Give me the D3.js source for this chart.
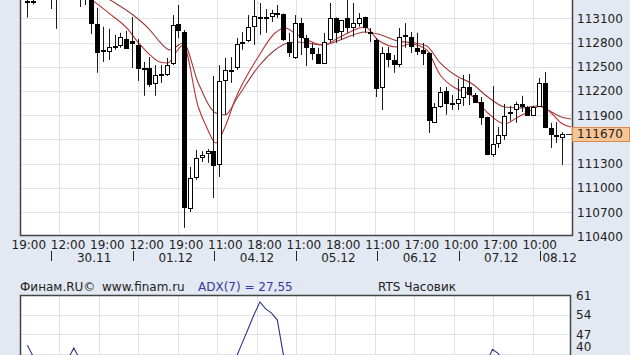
<!DOCTYPE html>
<html><head><meta charset="utf-8">
<script src="https://cdn.jsdelivr.net/npm/d3@7"></script>
<style>
html,body{margin:0;padding:0;background:#e3e9f2;}
svg{display:block;}
text{font-family:"DejaVu Sans",Verdana,sans-serif;font-size:12px;fill:#222;}
</style></head><body>
<svg id="c" width="630" height="355"></svg>
<script>
// ---- data (hourly RTS candles, 29.11 19:00 .. 08.12 13:00) ----
const opens  = [113310,113315,113450,113400,113440,113380,113420,113500,113450,113380,113360,113350,113030,112710,112695,112760,112770,112845,112820,112770,112490,112485,112300,112405,112410,112545,113030,112930,110750,111135,111385,111430,111455,111295,112335,112460,112495,112800,112830,113005,113120,113115,113130,113155,113155,112805,112620,113040,112855,112735,112660,112545,112845,113105,112945,113105,112995,113040,113115,112935,112830,112250,112670,112585,112535,112890,112870,112735,112710,112670,111815,112015,112200,112050,112050,112125,112250,112150,112065,111880,111420,111555,111655,111930,111975,112040,112000,111905,112015,112300,111740,111660,111630];
const highs  = [113400,113400,113520,113480,113520,113500,113560,113600,113520,113440,113420,113400,113230,112995,112970,112895,112920,112945,113115,112845,112560,112620,112520,112520,112610,113140,113265,112955,111260,111470,111455,111480,112385,112520,112610,112620,112855,112930,113140,113360,113290,113215,113205,113265,113160,112920,113140,113105,112895,112795,112735,112920,113290,113110,113080,113340,113290,113165,113120,112980,112855,112745,112745,112645,112980,113040,112930,112920,112795,112680,112050,112250,112250,112150,112350,112400,112410,112175,112125,111880,112260,111755,112040,112015,112065,112140,112015,112015,112360,112435,111805,111815,111690];
const lows   = [113110,113270,113360,113340,113215,112970,113380,113400,113350,113240,113265,112905,112425,112560,112585,112710,112735,112720,112485,112325,112140,112250,112140,112300,112385,112520,112855,110505,110700,111100,111320,111310,110875,111135,111905,112300,112460,112710,112805,112770,112895,112920,113055,113105,112820,112620,112595,112645,112510,112585,112535,112535,112805,112795,112830,112920,112870,112995,112920,112805,112125,111965,112495,112425,112495,112735,112670,112645,112520,111680,111805,111990,111905,111965,111965,112015,112025,112050,111780,111405,111385,111495,111595,111830,111805,111940,111890,111890,112015,111740,111495,111555,111285];
const closes = [113305,113300,113400,113440,113380,113420,113500,113450,113380,113360,113350,113040,112685,112700,112745,112755,112870,112735,112795,112485,112485,112285,112400,112410,112520,113015,112955,110765,111120,111370,111405,111455,111285,112325,112460,112455,112780,112805,112995,113130,113115,113110,113165,113160,112845,112685,113040,112870,112745,112670,112545,112805,113105,112930,113080,112995,113040,113105,112995,112930,112235,112670,112595,112535,112870,112895,112755,112695,112670,111840,112000,112190,112050,112045,112100,112250,112165,112065,111880,111420,111545,111655,111890,111935,112040,112015,111905,112000,112300,111755,111665,111655,111670];

// moving averages: [candle index, price]
const maFast = [[6,113475],[10,113377],[14.2,113154],[17.1,112980],[19,112807],[21.1,112646],[22.8,112559],[24.2,112547],[25.6,112683],[26.8,112770],[29.4,112002],[30.9,111742],[32.4,111556],[34,111754],[35.7,112088],[39.7,112621],[42.6,112918],[44.3,112980],[46.5,112893],[50.9,112770],[53.8,112869],[58.1,112993],[60.3,112832],[63.7,112745],[65.8,112782],[67.5,112757],[68.7,112708],[71,112398],[73.6,112237],[76.3,112150],[79.2,111927],[82.1,111791],[84.4,111878],[86.1,111940],[88.3,112014],[90.1,111927],[91.8,111804],[93.5,111754]];
const maSlow = [[8,113575],[12,113414],[15.1,113290],[18.2,113141],[21.1,112955],[22.8,112807],[24.5,112708],[26.8,112794],[29.4,112299],[32.4,111927],[34,111903],[36.2,112126],[39.7,112497],[42.6,112708],[44.8,112794],[46.5,112807],[50.9,112770],[53.8,112832],[58.1,112931],[60.3,112906],[63.7,112819],[66.7,112794],[68.7,112757],[71,112547],[74.1,112373],[76.3,112299],[79.2,112126],[82.1,112002],[84.9,111990],[87.8,112014],[89.5,111964],[91.8,111878],[93.5,111853]];

// ADX(7)
const adx = [43,39,36,34,33,33,35,38,42,38,35,32,30,28,27,26,25,25,24,24,25,26,25,24,22,21,20,24,26,27,28,29,30,31,33,36,39,44,49,54,58.5,56,54.5,52,40,34,30,27,25,23,22,21,20,19,19,18,18,18,17,17,19,21,22,22,21,20,20,21,22,25,27,28,29,30,31,32,33,34,35,37,41.5,40,36,33,30,28,26,25,24,24,25,26,27.55];

const priceTicks = [110400,110700,111000,111300,111600,111900,112200,112500,112800,113100,113400];
const adxTicks = [61,54,47,40];
const timeLabels = [[0,"19:00"],[7,"12:00"],[14,"19:00"],[21,"12:00"],[28,"19:00"],[34,"11:00"],[41,"18:00"],[48,"11:00"],[55,"18:00"],[62,"11:00"],[68,"17:00"],[75,"10:00"],[82,"17:00"],[89,"10:00"]];
const days = [["29.11",-1,4],["30.11",5,18],["01.12",19,32],["04.12",33,46],["05.12",47,60],["06.12",61,74],["07.12",75,88],["08.12",89,92]];
const lastPrice = 111670;
const adxLabel = "ADX(7) = 27,55";

// ---- layout ----
const svg = d3.select("#c");
const L = 20, R = 572, B = 235.5, T = -60;
const x = d3.scaleLinear().domain([0, 92]).range([27.3, 562.3]);
const y = d3.scaleLinear().domain([110400, 113100]).range([236.3, 18.3]);
const LB = 295, LR = 570;
const yA = d3.scaleLinear().domain([40, 61]).range([353.5, 295]);
const gridCol = "#dfe3e8";
const nCols = 14;

// upper panel
svg.append("rect").attr("x", L).attr("y", T).attr("width", R - L).attr("height", B - T).attr("fill", "#fff");
svg.append("defs").append("clipPath").attr("id", "clip")
  .append("rect").attr("x", L).attr("y", T).attr("width", R - L).attr("height", B - T);
const g = svg.append("g");
for (let k = 1; k < nCols; k++) {
  const gx = Math.round(L + k * (R - L) / nCols) + 0.5;
  g.append("line").attr("x1", gx).attr("x2", gx).attr("y1", T).attr("y2", B).attr("stroke", gridCol);
}
priceTicks.slice(1).forEach(p => {
  const gy = Math.round(y(p)) + 0.5;
  g.append("line").attr("x1", L).attr("x2", R).attr("y1", gy).attr("y2", gy).attr("stroke", gridCol);
});

const plot = svg.append("g").attr("clip-path", "url(#clip)");
const line = d3.line().x(d => x(d[0])).y(d => y(d[1])).curve(d3.curveMonotoneX);
plot.append("path").datum(maSlow).attr("d", line).attr("fill", "none").attr("stroke", "#9a3a3a").attr("stroke-width", 1.1);
plot.append("path").datum(maFast).attr("d", line).attr("fill", "none").attr("stroke", "#b83434").attr("stroke-width", 1.1);

const idx = d3.range(opens.length);
const cg = plot.selectAll("g.c").data(idx).join("g");
cg.append("line")
  .attr("x1", i => Math.round(x(i)) + 0.5).attr("x2", i => Math.round(x(i)) + 0.5)
  .attr("y1", i => y(highs[i])).attr("y2", i => y(lows[i]))
  .attr("stroke", "#1a1a1a").attr("stroke-width", 1);
cg.append("rect")
  .attr("x", i => Math.round(x(i)) - 1.5)
  .attr("width", 4)
  .attr("y", i => Math.round(y(Math.max(opens[i], closes[i]))) + 0.5)
  .attr("height", i => Math.max(1, Math.round(Math.abs(y(opens[i]) - y(closes[i])))))
  .attr("fill", i => closes[i] < opens[i] ? "#000" : "#fff")
  .attr("stroke", "#000").attr("stroke-width", 1);

// frame
svg.append("path").attr("d", `M${L+0.5},${T} V${B} H${R+0.5} V${T}`).attr("fill", "none").attr("stroke", "#444").attr("stroke-width", 1.5);

// current price marker
svg.append("line").attr("x1", 566).attr("x2", R).attr("y1", Math.round(y(lastPrice)) + 0.5).attr("y2", Math.round(y(lastPrice)) + 0.5).attr("stroke", "#222");

// price labels
const boxY = y(lastPrice);
priceTicks.forEach(p => {
  const ty = y(p);
  if (ty < 0 || ty > 250) return;
  if (Math.abs(ty - boxY) < 12) return;
  svg.append("text").attr("x", 577).attr("y", ty + 4.5).text(p);
});
svg.append("rect").attr("x", 572.5).attr("y", Math.round(boxY) - 6.5).attr("width", 57).attr("height", 14)
  .attr("fill", "#f8c596").attr("stroke", "#d98a4a");
svg.append("text").attr("x", 577).attr("y", boxY + 4.5).text(lastPrice);

// time axis: labels laid out as one evenly spaced row starting at the first labelled candle
const labelPitch = 39.3;
timeLabels.forEach(([i, t], k) => {
  const lx = x(timeLabels[0][0]) + 1.5 + k * labelPitch;
  svg.append("text").attr("x", lx).attr("y", 248.5).attr("text-anchor", "middle").text(t);
});
days.forEach(([d, a, b], k) => {
  if (k === 0) return;
  const sx = Math.round(x(a - 0.5)) - 1.5;
  svg.append("line").attr("x1", sx).attr("x2", sx).attr("y1", 251).attr("y2", 261).attr("stroke", "#222");
  if (k === days.length - 1) {
    svg.append("text").attr("x", x(a - 0.5) + 0.5).attr("y", 261.5).text(d);
  } else {
    svg.append("text").attr("x", x((a + b) / 2)).attr("y", 261.5).attr("text-anchor", "middle").text(d);
  }
});

// lower panel
svg.append("text").attr("x", 20).attr("y", 291).attr("fill", "#333").text("Финам.RU©");
svg.append("text").attr("x", 102).attr("y", 291).attr("fill", "#333").text("www.finam.ru");
svg.append("text").attr("x", 198).attr("y", 291).style("fill", "#3838a0").text(adxLabel);
svg.append("text").attr("x", 417).attr("y", 291).attr("text-anchor", "middle").text("RTS Часовик");

svg.append("rect").attr("x", L).attr("y", LB).attr("width", LR - L).attr("height", 100).attr("fill", "#fff");
for (let k = 1; k < nCols; k++) {
  const gx = Math.round(L + k * (R - L) / nCols) + 0.5;
  svg.append("line").attr("x1", gx).attr("x2", gx).attr("y1", LB).attr("y2", 400).attr("stroke", gridCol);
}
adxTicks.slice(1).forEach(v => {
  const gy = Math.round(yA(v)) + 0.5;
  svg.append("line").attr("x1", L).attr("x2", LR).attr("y1", gy).attr("y2", gy).attr("stroke", gridCol);
});
svg.append("path").datum(adx).attr("d", d3.line().x((d, i) => x(i)).y(d => yA(d)))
  .attr("fill", "none").attr("stroke", "#33338a").attr("stroke-width", 1.1);
svg.append("path").attr("d", `M${L+0.5},400 V${LB+0.5} H${LR+0.5} V400`).attr("fill", "none").attr("stroke", "#444").attr("stroke-width", 1.5);
adxTicks.forEach(v => {
  svg.append("text").attr("x", 576).attr("y", Math.min(yA(v) + 4.5, 351)).text(v);
});
</script>
</body></html>
